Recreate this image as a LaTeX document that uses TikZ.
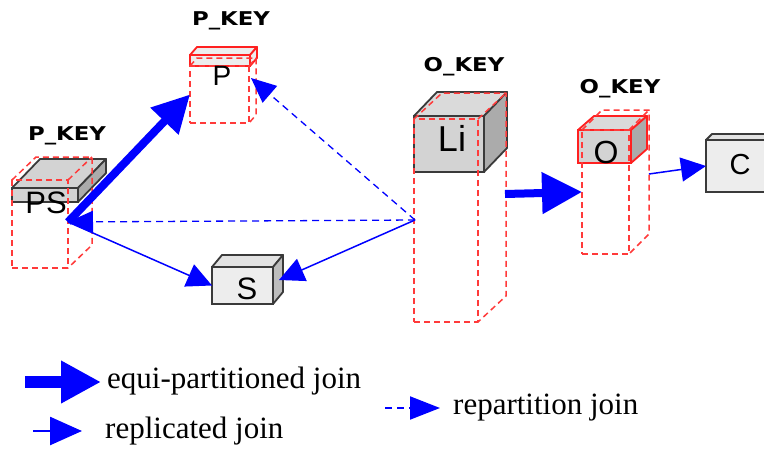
\documentclass[tikz,border=0pt]{standalone}
\usepackage{fontspec}
\setmainfont{Liberation Serif}
\newfontfamily\boxfont{Liberation Sans}
\newfontfamily\keyfont{DejaVu Sans}
\usetikzlibrary{arrows.meta}

\definecolor{edgegray}{HTML}{3A3A3A}
\definecolor{jblue}{HTML}{0000FF}
\definecolor{partred}{HTML}{FF3A3A}
\definecolor{solidred}{HTML}{FF2020}
\definecolor{faceMid}{HTML}{D3D3D3}
\definecolor{topMid}{HTML}{DADADA}
\definecolor{sideMid}{HTML}{ABABAB}
\definecolor{faceLight}{HTML}{EDEDED}
\definecolor{topLight}{HTML}{E2E2E2}
\definecolor{sideLight}{HTML}{BDBDBD}

% top and right faces of a box whose front face is node #1, depth (#2,#3)
\newcommand{\cubefaces}[6]{%
  \filldraw[line width=1.8pt, draw=#6, fill=#4, line join=round]
    (#1.north west) -- ++(#2,#3) -- ([shift={(#2,#3)}]#1.north east) -- (#1.north east) -- cycle;
  \filldraw[line width=1.8pt, draw=#6, fill=#5, line join=round]
    (#1.north east) -- ([shift={(#2,#3)}]#1.north east) -- ([shift={(#2,#3)}]#1.south east) -- (#1.south east) -- cycle;}

% visible back edges of a dashed partition outline whose front is node #1
\newcommand{\partedges}[3]{%
  \draw[partline] (#1.north west) -- ++(#2,#3) -- ([shift={(#2,#3)}]#1.north east)
    -- ([shift={(#2,#3)}]#1.south east) -- (#1.south east);
  \draw[partline] (#1.north east) -- ++(#2,#3);}

\tikzset{
  face/.style={draw=edgegray, line width=1.8pt, inner sep=0pt, outer sep=0pt},
  partline/.style={draw=partred, line width=1.5pt, dash pattern=on 6pt off 4pt, line join=round},
  partface/.style={partline, inner sep=0pt, outer sep=0pt},
  boxtext/.style={font=\boxfont\fontsize{#1}{#1}\selectfont, inner sep=0pt, anchor=base},
  keylabel/.style={font=\keyfont\bfseries\fontsize{19}{19}\selectfont, inner sep=0pt, anchor=base},
  legendtext/.style={font=\fontsize{31}{31}\selectfont, inner sep=0pt, anchor=base west},
  equi/.style={draw=jblue, line width=8pt, -{Triangle[length=37pt,width=37pt]}},
  repl/.style={draw=jblue, line width=1.5pt, -{Triangle[length=25pt,width=24pt]}},
  repart/.style={draw=jblue, line width=1.3pt, dash pattern=on 7pt off 5pt, -{Triangle[length=25pt,width=22pt]}},
}

\begin{document}
\begin{tikzpicture}[x=1pt,y=-1pt]
\useasboundingbox (0,0) rectangle (764,453);
\fill[white] (0,0) rectangle (764,453);

% ---- boxes ----
\node[face, fill=faceMid, minimum width=66pt, minimum height=14pt] (ps) at (45,195) {};
\cubefaces{ps}{28}{-29}{faceMid}{sideMid}{edgegray}

\node[face, draw=solidred, fill=faceLight, minimum width=60pt, minimum height=11pt] (p) at (220,60.5) {};
\cubefaces{p}{7}{-8}{faceLight}{faceLight}{solidred}

\node[face, fill=faceMid, minimum width=70pt, minimum height=56pt] (li) at (449,144) {};
\cubefaces{li}{23}{-24}{topMid}{sideMid}{edgegray}

\node[face, draw=solidred, fill=faceMid, minimum width=53pt, minimum height=33pt] (o) at (604.5,146.5) {};
\cubefaces{o}{16}{-14}{topMid}{sideMid}{solidred}

\node[face, fill=faceLight, minimum width=61pt, minimum height=37pt] (s) at (242.5,285.5) {};
\cubefaces{s}{10}{-12}{topLight}{sideLight}{edgegray}

\node[face, fill=faceLight, minimum width=66pt, minimum height=52pt] (c) at (739,166) {};
\cubefaces{c}{6}{-6}{topLight}{sideLight}{edgegray}

% ---- partition outlines ----
\node[partface, minimum width=56pt, minimum height=88pt] (pspart) at (40,224) {};
\partedges{pspart}{24}{-23}
\node[partface, minimum width=59pt, minimum height=57pt] (ppart) at (219.5,94.5) {};
\partedges{ppart}{7}{-8}
\node[partface, minimum width=64pt, minimum height=203pt] (lipart) at (446,220.5) {};
\partedges{lipart}{28}{-26}
\node[partface, minimum width=47pt, minimum height=124pt] (opart) at (605.5,192) {};
\partedges{opart}{20}{-20}

% ---- box names ----
\node[boxtext=31] (pstext) at (46,213) {PS};
\node[boxtext=28] (ptext) at (222,85) {P};
\node[boxtext=36] (litext) at (452,151) {Li};
\node[boxtext=31] (stext) at (247,299) {S};
\node[boxtext=32] (otext) at (606,163) {O};
\node[boxtext=29] (ctext) at (740,174) {C};

% ---- partition keys ----
\node[keylabel] (pskey) at (67,140) {\scalebox{1.2}[1]{P\_KEY}};
\node[keylabel] (pkey) at (231,25) {\scalebox{1.2}[1]{P\_KEY}};
\node[keylabel] (likey) at (464,71) {\scalebox{1.2}[1]{O\_KEY}};
\node[keylabel] (okey) at (620,93) {\scalebox{1.2}[1]{O\_KEY}};

% ---- joins ----
\coordinate (psport) at (68,222);
\coordinate (liport) at (415,220);
\coordinate (pin) at (251,78);
\coordinate (sin) at (279,280);
\coordinate (liout) at (505,194);
\coordinate (oout) at (649,174);

\draw[repart] (liport) -- (psport);
\draw[repart] (liport) -- (pin);
\draw[repl] (psport) -- (s.west);
\draw[repl] (liport) -- (sin);
\draw[equi] (psport) -- (ppart.west);
\draw[equi, -{Triangle[length=40pt,width=40pt]}] (liout) -- (opart.west);
\draw[repl] (oout) -- (c.west);

% ---- legend ----
\coordinate (la1) at (25,382);
\coordinate (la2) at (101,382);
\draw[equi, line width=12pt, -{Triangle[length=40pt,width=40pt]}] (la1) -- (la2);
\node[legendtext] (lt1) at (107,388) {equi-partitioned join};

\coordinate (lb1) at (33,431);
\coordinate (lb2) at (82,431);
\draw[repl, line width=2.5pt, -{Triangle[length=32pt,width=28pt]}] (lb1) -- (lb2);
\node[legendtext] (lt2) at (105,438) {replicated join};

\coordinate (lc1) at (385,408);
\coordinate (lc2) at (440,408);
\draw[repart, line width=2pt, -{Triangle[length=30pt,width=23pt]}] (lc1) -- (lc2);
\node[legendtext] (lt3) at (453,414) {repartition join};
\end{tikzpicture}
\end{document}
